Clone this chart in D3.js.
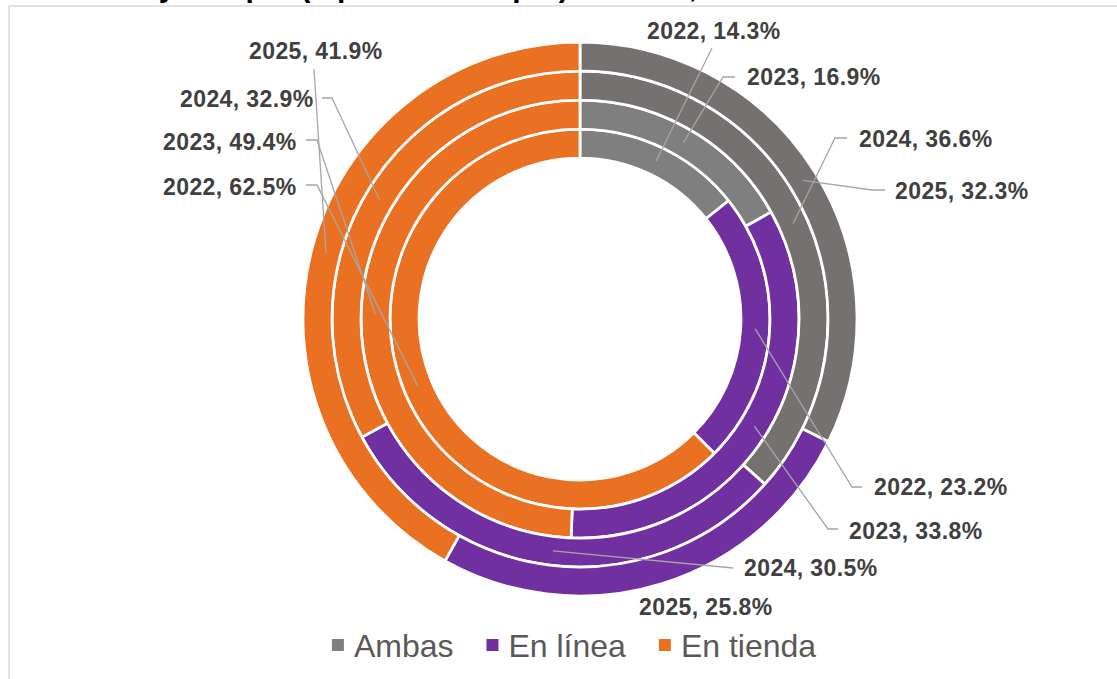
<!DOCTYPE html>
<html>
<head>
<meta charset="utf-8">
<script src="https://cdn.jsdelivr.net/npm/d3@7/dist/d3.min.js"></script>
<style>
  html, body { margin: 0; padding: 0; background: #ffffff; }
  svg { display: block; }
</style>
</head>
<body>
<svg id="chart" width="1117" height="679"></svg>
<script>
// ---- DATA ----
const years = ["2022", "2023", "2024", "2025"];
const seriesNames = ["Ambas", "En línea", "En tienda"];
const ambas = [14.3, 16.9, 36.6, 32.3];
const enLinea = [23.2, 33.8, 30.5, 25.8];
const enTienda = [62.5, 49.4, 32.9, 41.9];
const titleText = "y compra (o plan de compra) en línea, en tienda o ambas";

// ---- STYLE / LAYOUT ----
const W = 1117, H = 679;
const cx = 580, cy = 319;
const ambasShades = ["#7f7f7f", "#7f7f7f", "#767171", "#767171"];
const colorOf = (s, yi) => s === "Ambas" ? ambasShades[yi] : (s === "En línea" ? "#7030a0" : "#ea7121");
const legendColors = { "Ambas": "#7f7f7f", "En línea": "#7030a0", "En tienda": "#ea7121" };

// label placement (text start x, baseline y, leader path points after the segment centroid)
const labelLayout = {
  "2022|Ambas":     { x: 647, y: 39,  pts: [[712, 48]] },
  "2023|Ambas":     { x: 747, y: 85,  pts: [[723, 77], [735, 77]] },
  "2024|Ambas":     { x: 859, y: 147, pts: [[835, 138], [847, 138]] },
  "2025|Ambas":     { x: 895, y: 199, pts: [[872, 190], [885, 190]] },
  "2022|En línea":  { x: 874, y: 495, pts: [[852, 487], [862, 487]] },
  "2023|En línea":  { x: 849, y: 539, pts: [[828, 529], [838, 529]] },
  "2024|En línea":  { x: 744, y: 576, pts: [[733, 568]] },
  "2025|En línea":  { x: 639, y: 615, pts: [] },
  "2025|En tienda": { x: 249, y: 59,  pts: [[314, 69]] },
  "2024|En tienda": { x: 180, y: 107, pts: [[332, 98], [322, 98]] },
  "2023|En tienda": { x: 163, y: 150, pts: [[317, 140], [306, 140]] },
  "2022|En tienda": { x: 163, y: 195, pts: [[317, 185], [306, 185]] }
};

const svg = d3.select("#chart");

// border (chart area frame, partly outside view)
svg.append("line").attr("x1", 9).attr("y1", 6).attr("x2", W).attr("y2", 6)
  .attr("stroke", "#d9d9d9").attr("stroke-width", 1.5);
svg.append("line").attr("x1", 9).attr("y1", 6).attr("x2", 9).attr("y2", H)
  .attr("stroke", "#d9d9d9").attr("stroke-width", 1.5);

// title (only its lower part is visible, as in the reference)
svg.append("text")
  .attr("x", 563).attr("y", -3.5)
  .attr("text-anchor", "middle")
  .attr("font-family", "Arial, 'Liberation Sans', sans-serif")
  .attr("font-weight", "bold")
  .attr("font-size", 30)
  .attr("fill", "#000000")
  .text(titleText);

// ---- RINGS ----
const rScale = d3.scaleBand().domain(years).range([161, 277]).padding(0);
const pie = d3.pie().sort(null).value(d => d.value).startAngle(0).endAngle(2 * Math.PI);

const g = svg.append("g").attr("transform", `translate(${cx},${cy})`);

const rings = years.map((y, i) => {
  const rows = [
    { series: "Ambas", value: ambas[i] },
    { series: "En línea", value: enLinea[i] },
    { series: "En tienda", value: enTienda[i] }
  ];
  const arcs = pie(rows);
  const r0 = rScale(y), r1 = r0 + rScale.bandwidth();
  return { year: y, yi: i, arcs, r0, r1 };
});

rings.forEach(ring => {
  const arc = d3.arc().innerRadius(ring.r0).outerRadius(ring.r1);
  g.selectAll(null)
    .data(ring.arcs)
    .enter().append("path")
    .attr("d", arc)
    .attr("fill", d => colorOf(d.data.series, ring.yi))
    .attr("stroke", "#ffffff")
    .attr("stroke-width", 2.75)
    .attr("stroke-linejoin", "miter");
});

// ---- LEADERS + LABELS ----
const leaderG = svg.append("g");
const labelG = svg.append("g");
rings.forEach(ring => {
  const arc = d3.arc().innerRadius(ring.r0).outerRadius(ring.r1);
  ring.arcs.forEach(d => {
    const key = ring.year + "|" + d.data.series;
    const lay = labelLayout[key];
    const c = arc.centroid(d);
    const start = [cx + c[0], cy + c[1]];
    if (lay.pts.length) {
      leaderG.append("path")
        .attr("d", d3.line()([start, ...lay.pts]))
        .attr("fill", "none")
        .attr("stroke", "#a6a6a6")
        .attr("stroke-width", 1.3);
    }
    labelG.append("text")
      .attr("x", lay.x).attr("y", lay.y)
      .attr("font-family", "Arial, 'Liberation Sans', sans-serif")
      .attr("font-weight", "bold")
      .attr("font-size", 23)
      .attr("letter-spacing", 0.4)
      .attr("fill", "#404040")
      .text(`${ring.year}, ${d.data.value.toFixed(1)}%`);
  });
});

// ---- LEGEND ----
const legend = svg.append("g");
let lx = 0;
seriesNames.forEach((s, i) => {
  const it = legend.append("g");
  it.append("rect").attr("x", 0).attr("y", -18).attr("width", 12).attr("height", 12)
    .attr("fill", legendColors[s]);
  const t = it.append("text").attr("x", 22).attr("y", 0)
    .attr("font-family", "Arial, 'Liberation Sans', sans-serif")
    .attr("font-size", 32)
    .attr("fill", "#595959")
    .text(s);
  const w = 22 + t.node().getComputedTextLength();
  it.attr("transform", `translate(${lx},0)`);
  lx += w + 33;
});
const totalW = lx - 33;
legend.attr("transform", `translate(${574 - totalW / 2},657)`);
</script>
</body>
</html>
